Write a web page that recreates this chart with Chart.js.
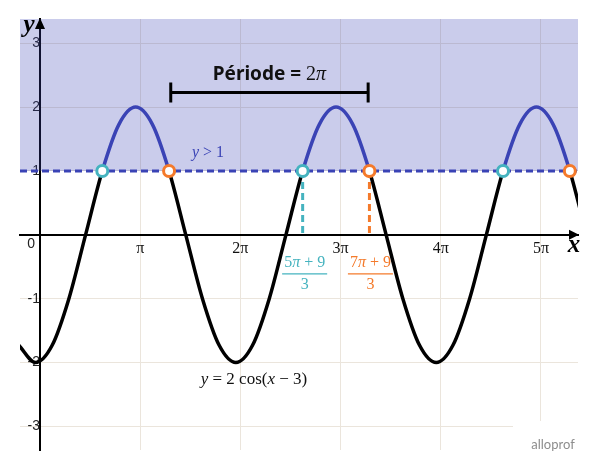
<!DOCTYPE html>
<html>
<head>
<meta charset="utf-8">
<script src="https://cdn.jsdelivr.net/npm/chart.js@4"></script>
<style>
  html, body { margin: 0; padding: 0; background: #fff; }
  #wrap { width: 600px; height: 470px; }
</style>
</head>
<body>
<div id="wrap"><canvas id="chart" width="600" height="470"></canvas></div>
<script>
const curveX = [-0.665, -0.142, 0.382, 0.906, 1.429, 1.953, 2.476, 3.0, 3.524, 4.047, 4.571, 5.094,
  5.618, 6.142, 6.665, 7.189, 7.712, 8.236, 8.760, 9.283, 9.807, 10.330, 10.854, 11.378,
  11.901, 12.425, 12.948, 13.472, 13.996, 14.519, 15.043, 15.566, 16.090, 16.614, 17.137];
const curveY = [-1.73, -2, -1.73, -1, 0, 1, 1.73, 2, 1.73, 1, 0, -1,
  -1.73, -2, -1.73, -1, 0, 1, 1.73, 2, 1.73, 1, 0, -1,
  -1.73, -2, -1.73, -1, 0, 1, 1.73, 2, 1.73, 1, 0];

const thresholdY = 1;
const tealCrossX = [1.953, 8.236, 14.519];
const orangeCrossX = [4.047, 10.330, 16.614];
const tealGuideX = 8.236;
const orangeGuideX = 10.330;

const xTickValues = [Math.PI, 2 * Math.PI, 3 * Math.PI, 4 * Math.PI, 5 * Math.PI];
const xTickLabels = ["π", "2π", "3π", "4π", "5π"];
const yTickValues = [-3, -2, -1, 1, 2, 3];

const periodStart = 4.1;
const periodEnd = 10.29;
const periodY = 2.23;

const X_MIN = -0.627, X_MAX = 16.87;
const Y_MIN = -3.37, Y_MAX = 3.38;

const BLUE = "#3a43b5";
const TEAL = "#45b3bf";
const ORANGE = "#f47a2b";
const GRID = "#ebe5dc";
const SERIF = "'Liberation Serif', 'DejaVu Serif', serif";

function drawParts(ctx, parts, x, y, color) {
  let total = 0;
  parts.forEach((p) => {
    ctx.font = p.font;
    total += ctx.measureText(p.t).width;
  });
  let cx = x - total / 2;
  ctx.fillStyle = color;
  ctx.textAlign = "left";
  ctx.textBaseline = "middle";
  parts.forEach((p) => {
    ctx.font = p.font;
    ctx.fillText(p.t, cx, y);
    cx += ctx.measureText(p.t).width;
  });
  return total;
}

function drawFraction(ctx, cx, top, digit, color) {
  const up = "16px " + SERIF;
  const it = "italic 16px " + SERIF;
  const w = drawParts(ctx, [
    { t: digit, font: up },
    { t: "π", font: it },
    { t: " + 9", font: up },
  ], cx, top, color);
  ctx.strokeStyle = color;
  ctx.lineWidth = 1.2;
  ctx.beginPath();
  ctx.moveTo(cx - w / 2 - 2, top + 11);
  ctx.lineTo(cx + w / 2 + 2, top + 11);
  ctx.stroke();
  drawParts(ctx, [{ t: "3", font: up }], cx, top + 22, color);
}

const decorations = {
  id: "decorations",
  afterDraw(chart) {
    const ctx = chart.ctx;
    const xs = chart.scales.x;
    const ys = chart.scales.y;
    const area = chart.chartArea;
    const ox = xs.getPixelForValue(0);
    const oy = ys.getPixelForValue(0);
    ctx.save();

    // arrow heads
    ctx.fillStyle = "#000";
    ctx.beginPath();
    ctx.moveTo(ox, area.top - 1);
    ctx.lineTo(ox - 5, area.top + 10);
    ctx.lineTo(ox + 5, area.top + 10);
    ctx.closePath();
    ctx.fill();
    ctx.beginPath();
    ctx.moveTo(area.right + 1, oy);
    ctx.lineTo(area.right - 9, oy - 5);
    ctx.lineTo(area.right - 9, oy + 5);
    ctx.closePath();
    ctx.fill();

    // axis names
    ctx.font = "bold italic 25px " + SERIF;
    ctx.textAlign = "center";
    ctx.textBaseline = "middle";
    ctx.fillText("y", 29, 26);
    ctx.fillText("x", 574, 246);

    // origin label
    ctx.font = "14px 'Liberation Sans', Arial, sans-serif";
    ctx.fillStyle = "#222";
    ctx.textAlign = "right";
    ctx.fillText("0", ox - 5, oy + 9);

    // period bracket
    const px1 = xs.getPixelForValue(periodStart);
    const px2 = xs.getPixelForValue(periodEnd);
    const py = ys.getPixelForValue(periodY);
    ctx.strokeStyle = "#000";
    ctx.lineWidth = 3;
    ctx.beginPath();
    ctx.moveTo(px1, py);
    ctx.lineTo(px2, py);
    ctx.moveTo(px1, py - 10);
    ctx.lineTo(px1, py + 10);
    ctx.moveTo(px2, py - 10);
    ctx.lineTo(px2, py + 10);
    ctx.stroke();
    drawParts(ctx, [
      { t: "Période = ", font: "bold 19px 'Noto Sans', sans-serif" },
      { t: "2", font: "20px " + SERIF },
      { t: "π", font: "italic 20px " + SERIF },
    ], (px1 + px2) / 2, py - 18, "#111");

    // y > 1
    drawParts(ctx, [
      { t: "y", font: "italic 16px " + SERIF },
      { t: " > 1", font: "16px " + SERIF },
    ], xs.getPixelForValue(5.27), ys.getPixelForValue(1.29), BLUE);

    // curve equation
    drawParts(ctx, [
      { t: "y", font: "italic 17px " + SERIF },
      { t: " = 2 cos(", font: "17px " + SERIF },
      { t: "x", font: "italic 17px " + SERIF },
      { t: " − 3)", font: "17px " + SERIF },
    ], xs.getPixelForValue(6.71), ys.getPixelForValue(-2.27), "#111");

    // crossing fractions
    drawFraction(ctx, xs.getPixelForValue(tealGuideX) + 2, oy + 28, "5", TEAL);
    drawFraction(ctx, xs.getPixelForValue(orangeGuideX) + 1, oy + 28, "7", ORANGE);

    // watermark
    ctx.fillStyle = "#fff";
    ctx.fillRect(513, 421, 87, 49);
    ctx.font = "13px Lato, sans-serif";
    ctx.fillStyle = "#8d8d8d";
    ctx.textAlign = "center";
    ctx.textBaseline = "middle";
    ctx.fillText("alloprof", 553, 445);

    ctx.restore();
  },
};

const curveData = curveX.map((x, i) => ({ x, y: curveY[i] }));
const tealPoints = tealCrossX.map((x) => ({ x, y: thresholdY }));
const orangePoints = orangeCrossX.map((x) => ({ x, y: thresholdY }));

new Chart(document.getElementById("chart"), {
  type: "line",
  data: {
    datasets: [
      {
        label: "seuil",
        data: [{ x: X_MIN, y: thresholdY }, { x: X_MAX, y: thresholdY }],
        borderColor: BLUE,
        borderWidth: 3,
        borderDash: [7, 4],
        pointRadius: 0,
        fill: "end",
        backgroundColor: "rgba(58, 68, 180, 0.27)",
        order: 4,
      },
      {
        label: "guide teal",
        data: [{ x: tealGuideX, y: thresholdY }, { x: tealGuideX, y: 0 }],
        borderColor: TEAL,
        borderWidth: 3,
        borderDash: [7, 4],
        pointRadius: 0,
        order: 3,
      },
      {
        label: "guide orange",
        data: [{ x: orangeGuideX, y: thresholdY }, { x: orangeGuideX, y: 0 }],
        borderColor: ORANGE,
        borderWidth: 3,
        borderDash: [7, 4],
        pointRadius: 0,
        order: 3,
      },
      {
        label: "y = 2cos(x - 3)",
        data: curveData,
        borderColor: "#000",
        borderWidth: 3.5,
        cubicInterpolationMode: "monotone",
        pointRadius: 0,
        segment: {
          borderColor: (ctx) =>
            Math.min(ctx.p0.parsed.y, ctx.p1.parsed.y) >= thresholdY ? BLUE : "#000",
        },
        order: 2,
      },
      {
        label: "teal",
        data: tealPoints,
        showLine: false,
        pointRadius: 5.5,
        pointBorderWidth: 3,
        pointBorderColor: TEAL,
        pointBackgroundColor: "#fff",
        order: 1,
      },
      {
        label: "orange",
        data: orangePoints,
        showLine: false,
        pointRadius: 5.5,
        pointBorderWidth: 3,
        pointBorderColor: ORANGE,
        pointBackgroundColor: "#fff",
        order: 1,
      },
    ],
  },
  options: {
    responsive: false,
    animation: false,
    layout: { padding: { left: 20, top: 19, right: 22, bottom: 20 } },
    plugins: {
      legend: { display: false },
      tooltip: { enabled: false },
    },
    scales: {
      x: {
        type: "linear",
        min: X_MIN,
        max: X_MAX,
        position: { y: 0 },
        afterBuildTicks: (scale) => {
          scale.ticks = xTickValues.map((v) => ({ value: v }));
        },
        ticks: {
          padding: 4,
          color: "#111",
          font: { family: "'Liberation Serif', serif", size: 16 },
          callback: (v, i) => xTickLabels[i],
        },
        grid: { color: GRID, lineWidth: 1, drawTicks: false },
        border: { display: true, color: "#000", width: 2 },
      },
      y: {
        type: "linear",
        min: Y_MIN,
        max: Y_MAX,
        position: { x: 0 },
        afterBuildTicks: (scale) => {
          scale.ticks = yTickValues.map((v) => ({ value: v }));
        },
        ticks: {
          padding: 6,
          color: "#222",
          font: { family: "'Liberation Sans', Arial, sans-serif", size: 14 },
        },
        grid: { color: GRID, lineWidth: 1, drawTicks: false },
        border: { display: true, color: "#000", width: 2 },
      },
    },
  },
  plugins: [decorations],
});
</script>
</body>
</html>
